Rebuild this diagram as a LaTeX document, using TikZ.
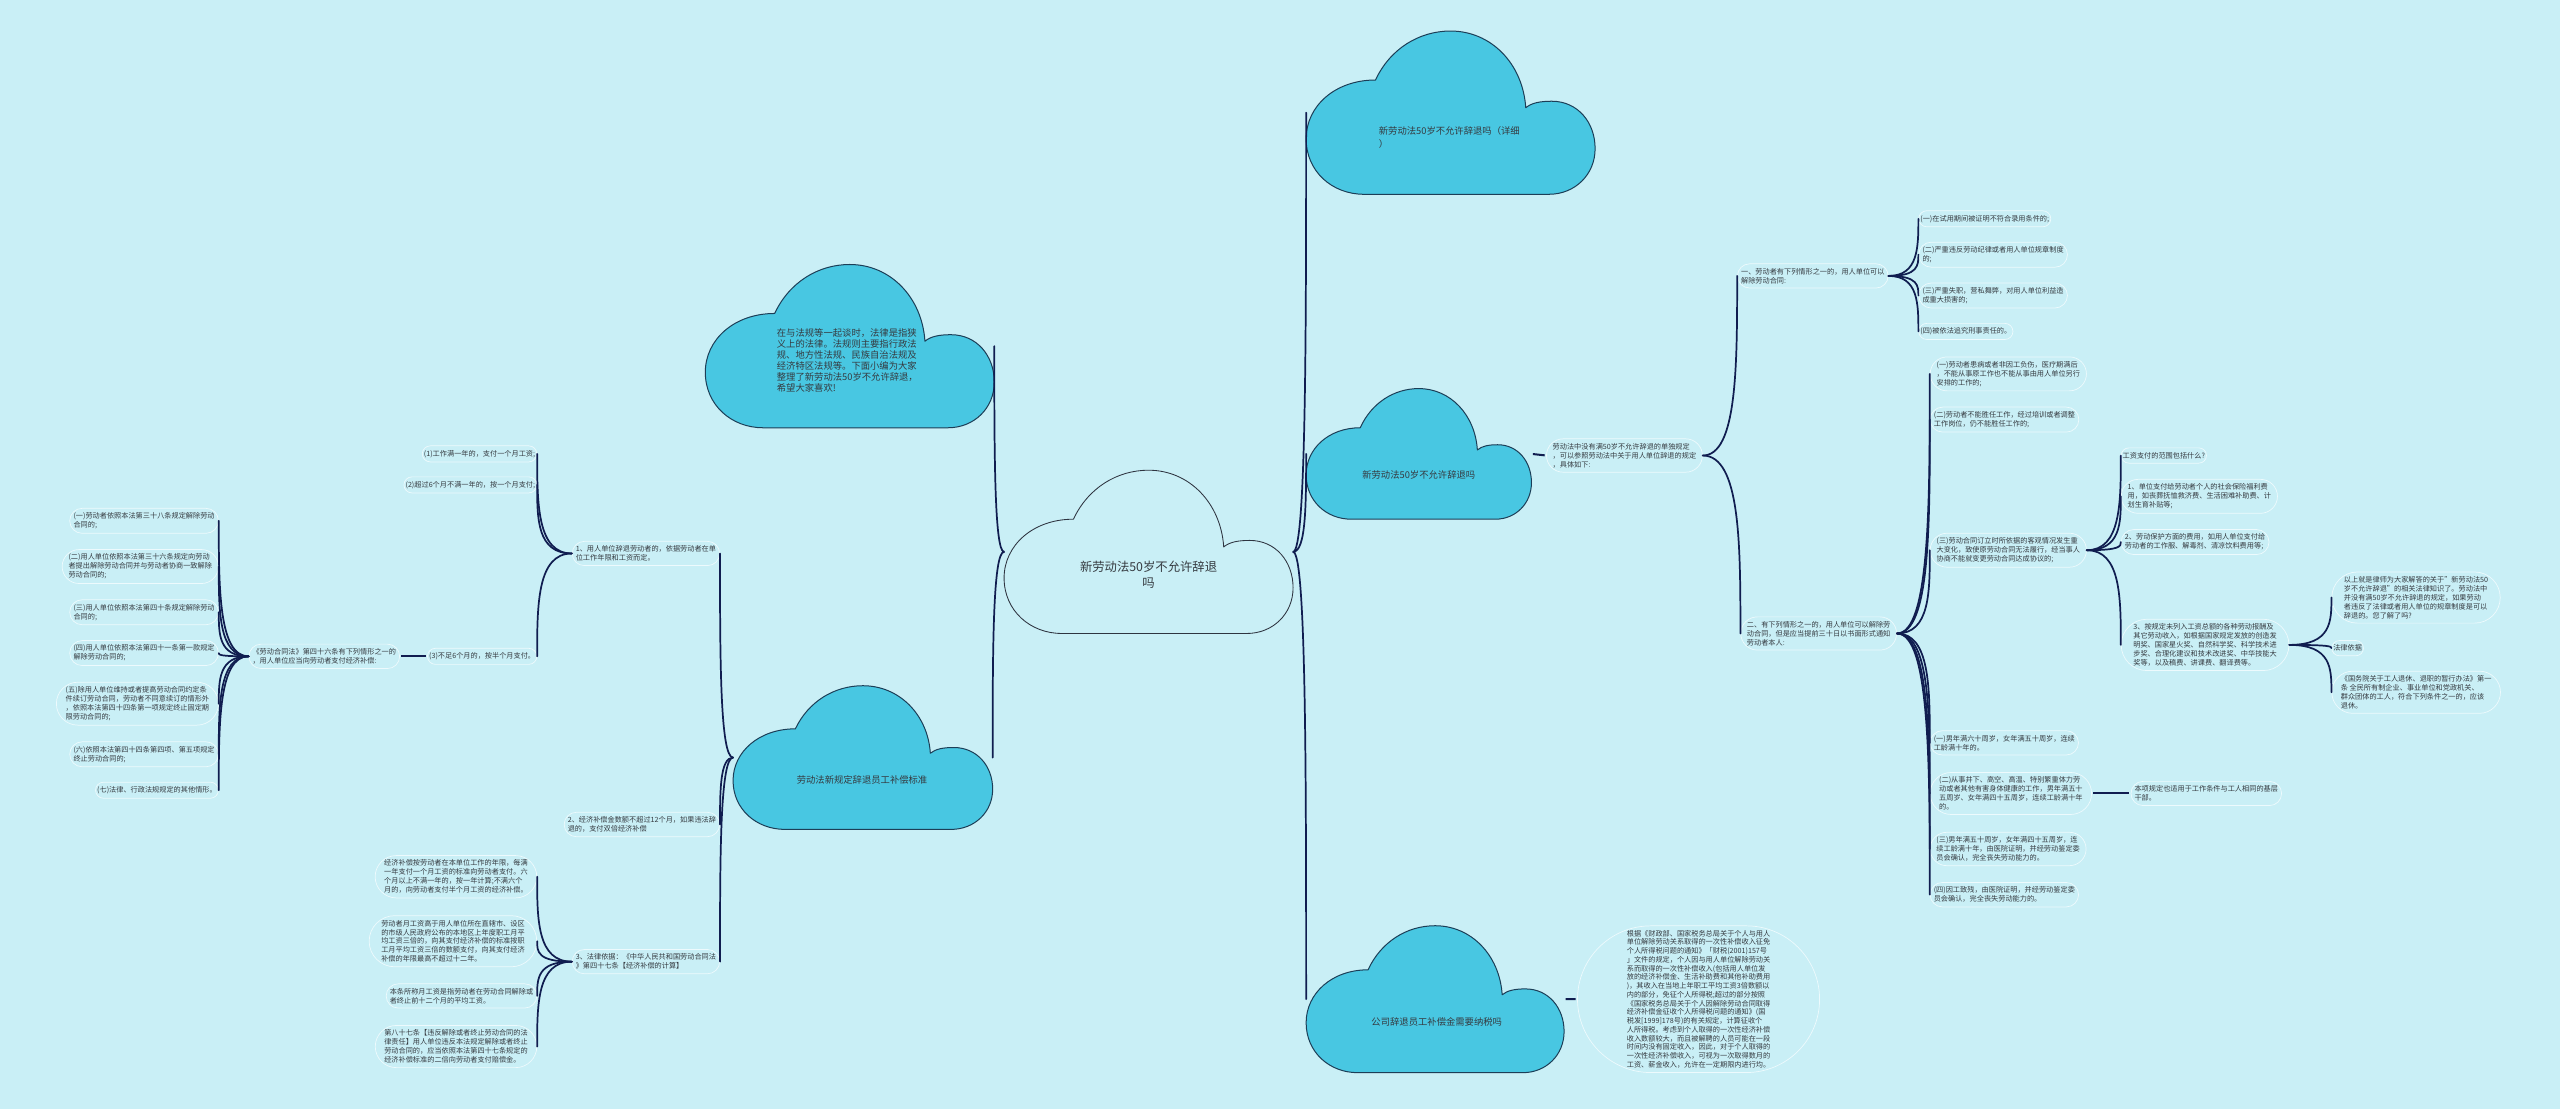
\documentclass[tikz,border=0pt]{standalone}
\usepackage{fontspec}
\setmainfont{Noto Sans CJK SC}
\usepackage{tikz}
\usetikzlibrary{calc,shapes.misc}
\definecolor{bgc}{HTML}{C9EFF6}
\definecolor{cloudc}{HTML}{48C7E2}
\definecolor{cloudl}{HTML}{1C3E57}
\definecolor{ctrl}{HTML}{2E3440}
\definecolor{linkc}{HTML}{101D50}
\definecolor{leafl}{HTML}{EDFAFD}
\definecolor{txt}{HTML}{353A40}

\begin{document}
\begin{tikzpicture}[x=0.08cm,y=-0.08cm,line join=round,
  leaf/.style={rounded rectangle,draw=leafl,line width=1pt,inner xsep=1pt,inner ysep=6pt,align=left,text=txt,font=\fontsize{10}{12.5}\selectfont},
  cloudtext/.style={text=txt,align=left,font=\fontsize{13}{17.6}\selectfont},
  link/.style={draw=linkc,line width=2.4pt,line cap=round},
  shortlink/.style={draw=linkc,line width=2.8pt,shorten <=2pt,shorten >=2pt},
  fanlink/.style={to path={.. controls (\tikztostart -| \tikztotarget) and ($(\tikztostart -| \tikztotarget)!0.5!(\tikztotarget)$) .. (\tikztotarget)}},
  cloudpic/.pic={
    \path[pic actions] (0.2,1) .. controls (0.09,1) and (0,0.86) .. (0,0.66)
      .. controls (0,0.46) and (0.1,0.3) .. (0.24,0.3)
      .. controls (0.29,0.11) and (0.39,0) .. (0.5,0)
      .. controls (0.64,0) and (0.75,0.2) .. (0.76,0.47)
      .. controls (0.78,0.44) and (0.81,0.43) .. (0.85,0.43)
      .. controls (0.94,0.43) and (1,0.56) .. (1,0.72)
      .. controls (1,0.88) and (0.93,1) .. (0.84,1) -- cycle;
    \coordinate (-w) at (0,0.5);
    \coordinate (-e) at (1,0.5);
  }]
\useasboundingbox (0,0) rectangle (1568,679);
\fill[bgc] (0,0) rectangle (1568,679);

% clouds
\pic[xscale=177,yscale=100,draw=ctrl,fill=bgc,line width=1.2pt] (ctr) at (615,288) {cloudpic};
\node[text=txt,align=center,font=\fontsize{17.2}{22.2}\selectfont] (ctrt) at (703.5,352) {新劳动法50岁不允许辞退\\吗};
\pic[xscale=177,yscale=100,draw=cloudl,fill=cloudc,line width=1.4pt] (r1) at (800,19) {cloudpic};
\node[cloudtext,anchor=west] (r1t) at (843,84) {新劳动法50岁不允许辞退吗（详细\\）};
\pic[xscale=138,yscale=80,draw=cloudl,fill=cloudc,line width=1.4pt] (r2) at (800,238) {cloudpic};
\node[cloudtext] (r2t) at (869,291) {新劳动法50岁不允许辞退吗};
\pic[xscale=158,yscale=90,draw=cloudl,fill=cloudc,line width=1.4pt] (r3) at (800,567) {cloudpic};
\node[cloudtext] (r3t) at (880,626) {公司辞退员工补偿金需要纳税吗};
\pic[xscale=177,yscale=100,draw=cloudl,fill=cloudc,line width=1.4pt] (l1) at (432,162) {cloudpic};
\node[cloudtext,font=\fontsize{13}{15.3}\selectfont] (l1t) at (519,221) {在与法规等一起谈时，法律是指狭\\义上的法律。法规则主要指行政法\\规、地方性法规、民族自治法规及\\经济特区法规等。下面小编为大家\\整理了新劳动法50岁不允许辞退，\\希望大家喜欢!};
\pic[xscale=159,yscale=88,draw=cloudl,fill=cloudc,line width=1.4pt] (l2) at (449,420) {cloudpic};
\node[cloudtext] (l2t) at (528,478) {劳动法新规定辞退员工补偿标准};

% left branch
\node[leaf,anchor=east] (n1) at (441,339) {1、用人单位辞退劳动者的，依据劳动者在单\\位工作年限和工资而定。};
\node[leaf,anchor=east] (n2) at (441,505) {2、经济补偿金数额不超过12个月，如果违法辞\\退的，支付双倍经济补偿};
\node[leaf,anchor=east] (n3) at (441,589) {3、法律依据：《中华人民共和国劳动合同法\\》第四十七条【经济补偿的计算】};
\node[leaf,anchor=east] (a1) at (329,278) {(1)工作满一年的，支付一个月工资;};
\node[leaf,anchor=east] (a2) at (329,297) {(2)超过6个月不满一年的，按一个月支付;};
\node[leaf,anchor=east] (a3) at (329,402) {(3)不足6个月的，按半个月支付。};
\node[leaf,anchor=east] (b0) at (245,402) {《劳动合同法》第四十六条有下列情形之一的\\，用人单位应当向劳动者支付经济补偿:};
\node[leaf,anchor=east] (b1) at (134,319) {(一)劳动者依照本法第三十八条规定解除劳动\\合同的;};
\node[leaf,anchor=east] (b2) at (134,347) {(二)用人单位依照本法第三十六条规定向劳动\\者提出解除劳动合同并与劳动者协商一致解除\\劳动合同的;};
\node[leaf,anchor=east] (b3) at (134,375) {(三)用人单位依照本法第四十条规定解除劳动\\合同的;};
\node[leaf,anchor=east] (b4) at (134,400) {(四)用人单位依照本法第四十一条第一款规定\\解除劳动合同的;};
\node[leaf,anchor=east] (b5) at (134,431) {(五)除用人单位维持或者提高劳动合同约定条\\件续订劳动合同，劳动者不同意续订的情形外\\，依照本法第四十四条第一项规定终止固定期\\限劳动合同的;};
\node[leaf,anchor=east] (b6) at (134,462) {(六)依照本法第四十四条第四项、第五项规定\\终止劳动合同的;};
\node[leaf,anchor=east] (b7) at (134,484) {(七)法律、行政法规规定的其他情形。};
\node[leaf,anchor=east] (c1) at (329,537) {经济补偿按劳动者在本单位工作的年限，每满\\一年支付一个月工资的标准向劳动者支付。六\\个月以上不满一年的，按一年计算;不满六个\\月的，向劳动者支付半个月工资的经济补偿。};
\node[leaf,anchor=east] (c2) at (329,576.5) {劳动者月工资高于用人单位所在直辖市、设区\\的市级人民政府公布的本地区上年度职工月平\\均工资三倍的，向其支付经济补偿的标准按职\\工月平均工资三倍的数额支付，向其支付经济\\补偿的年限最高不超过十二年。};
\node[leaf,anchor=east] (c3) at (329,610) {本条所称月工资是指劳动者在劳动合同解除或\\者终止前十二个月的平均工资。};
\node[leaf,anchor=east] (c4) at (329,641) {第八十七条【违反解除或者终止劳动合同的法\\律责任】用人单位违反本法规定解除或者终止\\劳动合同的，应当依照本法第四十七条规定的\\经济补偿标准的二倍向劳动者支付赔偿金。};

% right branch
\node[leaf,anchor=west] (d0) at (947,279) {劳动法中没有满50岁不允许辞退的单独规定\\，可以参照劳动法中关于用人单位辞退的规定\\，具体如下:};
\node[leaf,anchor=west] (e1) at (1064,169) {一、劳动者有下列情形之一的，用人单位可以\\解除劳动合同:};
\node[leaf,anchor=west] (e2) at (1066,388) {二、有下列情形之一的，用人单位可以解除劳\\动合同，但是应当提前三十日以书面形式通知\\劳动者本人:};
\node[leaf,anchor=west] (f1) at (1175,134) {(一)在试用期间被证明不符合录用条件的;};
\node[leaf,anchor=west] (f2) at (1175,156) {(二)严重违反劳动纪律或者用人单位规章制度\\的;};
\node[leaf,anchor=west] (f3) at (1175,181) {(三)严重失职，营私舞弊，对用人单位利益造\\成重大损害的;};
\node[leaf,anchor=west] (f4) at (1175,203) {(四)被依法追究刑事责任的。};
\node[leaf,anchor=west] (g1) at (1182,229) {(一)劳动者患病或者非因工负伤，医疗期满后\\，不能从事原工作也不能从事由用人单位另行\\安排的工作的;};
\node[leaf,anchor=west] (g2) at (1182,257) {(二)劳动者不能胜任工作，经过培训或者调整\\工作岗位，仍不能胜任工作的;};
\node[leaf,anchor=west] (g3) at (1182,337) {(三)劳动合同订立时所依据的客观情况发生重\\大变化，致使原劳动合同无法履行，经当事人\\协商不能就变更劳动合同达成协议的;};
\node[leaf,anchor=west] (g4) at (1182,455) {(一)男年满六十周岁，女年满五十周岁，连续\\工龄满十年的。};
\node[leaf,anchor=west] (g5) at (1182,486) {(二)从事井下、高空、高温、特别繁重体力劳\\动或者其他有害身体健康的工作，男年满五十\\五周岁、女年满四十五周岁，连续工龄满十年\\的。};
\node[leaf,anchor=west] (g6) at (1182,520) {(三)男年满五十周岁，女年满四十五周岁，连\\续工龄满十年，由医院证明，并经劳动鉴定委\\员会确认，完全丧失劳动能力的。};
\node[leaf,anchor=west] (g7) at (1182,548) {(四)因工致残，由医院证明，并经劳动鉴定委\\员会确认，完全丧失劳动能力的。};
\node[leaf,anchor=west] (h1) at (1305,486) {本项规定也适用于工作条件与工人相同的基层\\干部。};
\node[leaf,anchor=west] (k1) at (1299,279) {工资支付的范围包括什么?};
\node[leaf,anchor=west] (k2) at (1299,304) {1、单位支付给劳动者个人的社会保险福利费\\用，如丧葬抚恤救济费、生活困难补助费、计\\划生育补贴等;};
\node[leaf,anchor=west] (k3) at (1299,332) {2、劳动保护方面的费用，如用人单位支付给\\劳动者的工作服、解毒剂、清凉饮料费用等;};
\node[leaf,anchor=west] (k4) at (1299,395) {3、按规定未列入工资总额的各种劳动报酬及\\其它劳动收入，如根据国家规定发放的创造发\\明奖、国家星火奖、自然科学奖、科学技术进\\步奖、合理化建议和技术改进奖、中华技能大\\奖等，以及稿费、讲课费、翻译费等。};
\node[leaf,anchor=west] (m1) at (1428,366) {以上就是律师为大家解答的关于"新劳动法50\\岁不允许辞退"的相关法律知识了。劳动法中\\并没有满50岁不允许辞退的规定，如果劳动\\者违反了法律或者用人单位的规章制度是可以\\辞退的。您了解了吗?};
\node[leaf,anchor=west] (m2) at (1428,397) {法律依据};
\node[leaf,anchor=west] (m3) at (1428,424) {《国务院关于工人退休、退职的暂行办法》第一\\条 全民所有制企业、事业单位和党政机关、\\群众团体的工人，符合下列条件之一的，应该\\退休。};
\node[leaf,anchor=west,font=\fontsize{10}{12.2}\selectfont] (p1) at (966,612) {根据《财政部、国家税务总局关于个人与用人\\单位解除劳动关系取得的一次性补偿收入征免\\个人所得税问题的通知》「财税(2001)157号\\」文件的规定，个人因与用人单位解除劳动关\\系而取得的一次性补偿收入(包括用人单位发\\放的经济补偿金、生活补助费和其他补助费用\\)，其收入在当地上年职工平均工资3倍数额以\\内的部分，免征个人所得税;超过的部分按照\\《国家税务总局关于个人因解除劳动合同取得\\经济补偿金征收个人所得税问题的通知》(国\\税发[1999]178号)的有关规定，计算征收个\\人所得税。考虑到个人取得的一次性经济补偿\\收入数额较大，而且被解聘的人员可能在一段\\时间内没有固定收入，因此，对于个人取得的\\一次性经济补偿收入，可视为一次取得数月的\\工资、薪金收入，允许在一定期限内进行均。};

% connectors
\draw[link] (ctr-w) to[fanlink] (l1-e) (ctr-w) to[fanlink] (l2-e);
\draw[link] (ctr-e) to[fanlink] (r1-w) (ctr-e) to[fanlink] (r2-w) (ctr-e) to[fanlink] (r3-w);
\foreach \i in {1,2,3} \draw[link] (l2-w) to[fanlink] (n\i.east);
\foreach \i in {1,2,3} \draw[link] (n1.west) to[fanlink] (a\i.east);
\draw[shortlink] (a3.west) -- (b0.east);
\foreach \i in {1,...,7} \draw[link] (b0.west) to[fanlink] (b\i.east);
\foreach \i in {1,...,4} \draw[link] (n3.west) to[fanlink] (c\i.east);
\draw[shortlink] (r2-e) -- (d0.west);
\foreach \i in {1,2} \draw[link] (d0.east) to[fanlink] (e\i.west);
\foreach \i in {1,...,4} \draw[link] (e1.east) to[fanlink] (f\i.west);
\foreach \i in {1,...,7} \draw[link] (e2.east) to[fanlink] (g\i.west);
\draw[shortlink] (g5.east) -- (h1.west);
\foreach \i in {1,...,4} \draw[link] (g3.east) to[fanlink] (k\i.west);
\foreach \i in {1,2,3} \draw[link] (k4.east) to[fanlink] (m\i.west);
\draw[shortlink] (r3-e) -- (p1.west);
\end{tikzpicture}
\end{document}
